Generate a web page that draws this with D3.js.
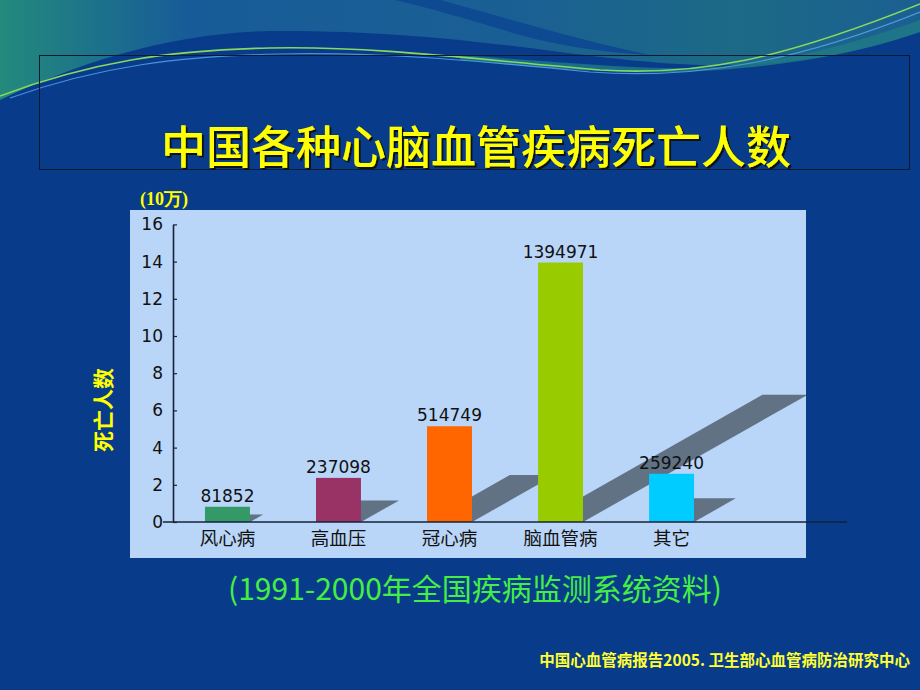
<!DOCTYPE html>
<html>
<head>
<meta charset="utf-8">
<script src="https://cdn.jsdelivr.net/npm/d3@7/dist/d3.min.js"></script>
<style>
html,body{margin:0;padding:0;background:#083c8a;}
svg{display:block;}
</style>
</head>
<body>
<svg id="chart" width="920" height="690"></svg>
<script>
// ---- data ----
const categories = ["风心病", "高血压", "冠心病", "脑血管病", "其它"];
const deaths = [81852, 237098, 514749, 1394971, 259240];
const barColors = ["#339966", "#993366", "#ff6600", "#99cc00", "#00ccff"];
const yTicks = [0, 2, 4, 6, 8, 10, 12, 14, 16];
const unit = 100000; // 10万

const svg = d3.select("#chart");
const W = 920, H = 690;

// ---- background ----
const defs = svg.append("defs");
const g1 = defs.append("linearGradient").attr("id", "topGrad").attr("x1", "0").attr("x2", "1").attr("y1", "0").attr("y2", "0");
g1.append("stop").attr("offset", "0").attr("stop-color", "#238a7c");
g1.append("stop").attr("offset", "0.2").attr("stop-color", "#175c98");
g1.append("stop").attr("offset", "0.55").attr("stop-color", "#1a5f94");
g1.append("stop").attr("offset", "0.8").attr("stop-color", "#1c6a86");
g1.append("stop").attr("offset", "1").attr("stop-color", "#1b5f92");

const shadow = defs.append("filter").attr("id", "tshadow").attr("x", "-5%").attr("y", "-20%").attr("width", "110%").attr("height", "140%");
shadow.append("feDropShadow").attr("dx", 2).attr("dy", 2).attr("stdDeviation", 0.4)
  .attr("flood-color", "#111").attr("flood-opacity", 0.9);

svg.append("rect").attr("width", W).attr("height", H).attr("fill", "#083c8a");
svg.append("path")
  .attr("d", "M0,0 H920 V32 C880,45 840,58 760,64 C700,68 640,62 560,52 C470,40 380,30 270,31 C170,33 80,62 0,100 Z")
  .attr("fill", "url(#topGrad)");
svg.append("path")
  .attr("d", "M395,0 L440,0 C520,22 580,40 650,55 C600,52 560,46 520,35 C470,20 430,8 395,0 Z")
  .attr("fill", "#0d4a92");
svg.append("path")
  .attr("d", "M460,55 C560,62 640,70 700,68 C780,64 850,45 920,20 V32 C860,52 800,64 720,70 C640,76 560,70 460,60 Z")
  .attr("fill", "#1f7a86").attr("opacity", 0.8);
svg.append("path")
  .attr("d", "M0,96 C90,62 170,50 270,48 C380,46 480,60 600,70 C700,76 780,60 920,4")
  .attr("fill", "none").attr("stroke", "#86d860").attr("stroke-width", 1.6);
svg.append("path")
  .attr("d", "M10,98 C100,66 180,56 280,54 C380,52 470,60 590,72 C700,80 800,60 920,12")
  .attr("fill", "none").attr("stroke", "#5aa8f0").attr("stroke-width", 1.2).attr("opacity", 0.8);

// ---- title box ----
svg.append("rect").attr("x", 39.5).attr("y", 55.5).attr("width", 870).attr("height", 114)
  .attr("fill", "none").attr("stroke", "#0a1a30").attr("stroke-width", 1);
svg.append("text").attr("x", 476).attr("y", 144)
  .attr("text-anchor", "middle").attr("dominant-baseline", "central")
  .attr("font-family", "'Noto Sans CJK SC'").attr("font-size", 45).attr("font-weight", 500)
  .attr("fill", "#ffff00").attr("filter", "url(#tshadow)").text("中国各种心脑血管疾病死亡人数");

// ---- chart panel ----
const panel = {x: 130, y: 210, w: 676, h: 348};
svg.append("rect").attr("x", panel.x).attr("y", panel.y).attr("width", panel.w).attr("height", panel.h)
  .attr("fill", "#b9d5f8");
defs.append("clipPath").attr("id", "panelClip").append("rect")
  .attr("x", panel.x).attr("y", panel.y).attr("width", panel.w).attr("height", panel.h);

const y = d3.scaleLinear().domain([0, 16]).range([522, 224.4]);
const x = d3.scaleBand().domain(categories).range([173, 726]).paddingInner(0.595).paddingOuter(0.288);

const data = categories.map((c, i) => ({cat: c, v: deaths[i], color: barColors[i]}));

// shadows
svg.append("g").attr("clip-path", "url(#panelClip)")
  .selectAll("path").data(data).join("path")
  .attr("d", d => {
    const x0 = x(d.cat), x1 = x(d.cat) + x.bandwidth();
    const base = y(0), h = y(0) - y(d.v / unit);
    const dy = 0.49 * h, dx = 0.865 * h;
    return `M${x0},${base} L${x1},${base} L${x1 + dx},${base - dy} L${x0 + dx},${base - dy} Z`;
  })
  .attr("fill", "#607284");

// bars
svg.append("g").selectAll("rect").data(data).join("rect")
  .attr("x", d => x(d.cat)).attr("width", x.bandwidth())
  .attr("y", d => y(d.v / unit)).attr("height", d => y(0) - y(d.v / unit))
  .attr("fill", d => d.color);

// value labels
svg.append("g").selectAll("text").data(data).join("text")
  .attr("x", d => x(d.cat) + x.bandwidth() / 2)
  .attr("y", d => y(d.v / unit) - 5)
  .attr("text-anchor", "middle")
  .attr("font-family", "'DejaVu Sans'").attr("font-size", 17).attr("fill", "#111")
  .text(d => d.v);

// x axis line
svg.append("line").attr("x1", 163).attr("x2", 847).attr("y1", 522).attr("y2", 522)
  .attr("stroke", "#14223a").attr("stroke-width", 1.6);

// category labels
svg.append("g").selectAll("text").data(categories).join("text")
  .attr("x", d => x(d) + x.bandwidth() / 2).attr("y", 537)
  .attr("text-anchor", "middle").attr("dominant-baseline", "central")
  .attr("font-family", "'Noto Sans CJK SC'").attr("font-size", 18.5).attr("fill", "#111")
  .text(d => d);

// y axis
const yAxis = d3.axisLeft(y).tickValues(yTicks).tickSizeInner(-4).tickSizeOuter(0).tickPadding(10);
const ya = svg.append("g").attr("transform", "translate(173,0)").call(yAxis);
ya.select(".domain").attr("stroke", "#14223a").attr("stroke-width", 1.6);
ya.selectAll(".tick line").attr("stroke", "#14223a").attr("stroke-width", 1.2);
ya.selectAll(".tick text").attr("font-family", "'DejaVu Sans'").attr("font-size", 17).attr("fill", "#111");

// unit label
svg.append("text").attr("x", 140).attr("y", 205)
  .attr("font-family", "'Liberation Serif'").attr("font-weight", "bold").attr("font-size", 18)
  .attr("fill", "#ffff00").text("(10万)");

// y axis title
svg.append("text").attr("transform", "translate(102,410) rotate(-90)")
  .attr("text-anchor", "middle").attr("dominant-baseline", "central")
  .attr("font-family", "'Noto Sans CJK SC'").attr("font-weight", "bold").attr("font-size", 21)
  .attr("fill", "#ffff00").text("死亡人数");

// subtitle
svg.append("text").attr("x", 475).attr("y", 587)
  .attr("text-anchor", "middle").attr("dominant-baseline", "central")
  .attr("font-family", "'Noto Sans CJK SC'").attr("font-size", 30)
  .attr("fill", "#44ee44").text("(1991-2000年全国疾病监测系统资料)");

// footer
svg.append("text").attr("x", 910).attr("y", 659)
  .attr("text-anchor", "end").attr("dominant-baseline", "central")
  .attr("font-family", "'Noto Sans CJK SC'").attr("font-weight", "bold").attr("font-size", 15.5)
  .attr("fill", "#ffff33").text("中国心血管病报告2005. 卫生部心血管病防治研究中心");
</script>
</body>
</html>
